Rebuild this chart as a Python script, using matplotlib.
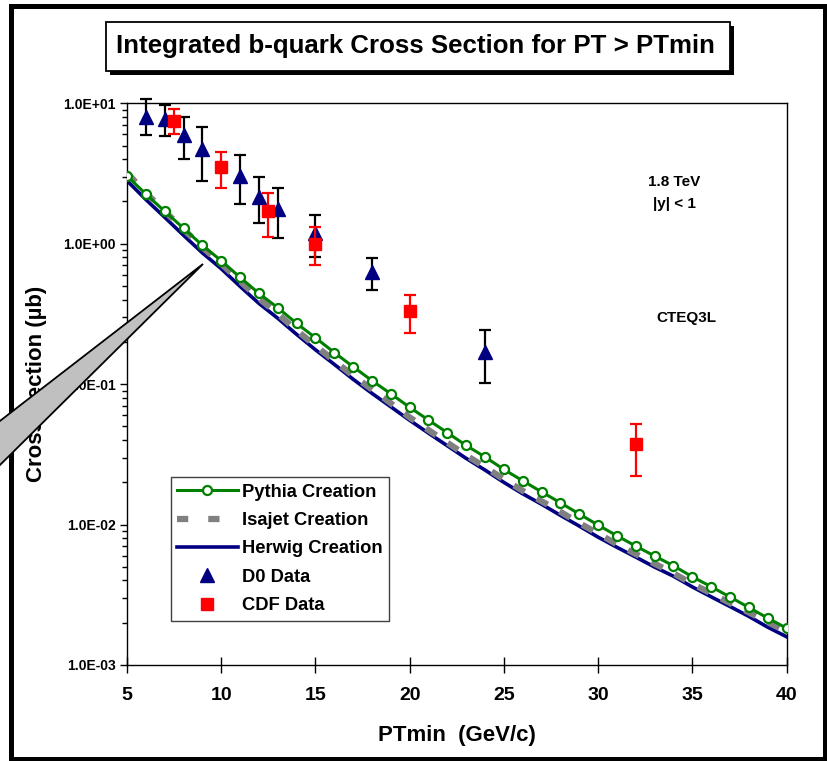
import matplotlib
matplotlib.use('Agg')
import matplotlib.pyplot as plt
from matplotlib.patches import Rectangle, Polygon
from matplotlib.lines import Line2D
from matplotlib.ticker import FixedLocator, FuncFormatter, LogLocator, NullFormatter

plt.rcParams['font.family'] = ['Liberation Sans', 'DejaVu Sans']
plt.rcParams['font.weight'] = 'bold'

# ---------------- data ----------------
pt_min = list(range(5, 41))
pythia = [3.035, 2.26, 1.70, 1.29, 0.974, 0.757, 0.576, 0.443, 0.350, 0.271,
          0.214, 0.168, 0.133, 0.106, 0.0854, 0.0684, 0.0555, 0.0451, 0.0366, 0.0303,
          0.0247, 0.0205, 0.0171, 0.0143, 0.0119, 0.00992, 0.00832, 0.00703, 0.00597, 0.00509,
          0.00425, 0.00361, 0.00305, 0.00257, 0.00216, 0.00183]
isajet = [3.19, 2.30, 1.70, 1.267, 0.943, 0.721, 0.540, 0.408, 0.317, 0.2416,
          0.1877, 0.1466, 0.1148, 0.0918, 0.0731, 0.0580, 0.0471, 0.0383, 0.0311, 0.0257,
          0.0210, 0.0174, 0.01466, 0.01233, 0.01025, 0.00863, 0.00724, 0.00617, 0.00526, 0.00450,
          0.00378, 0.00324, 0.00276, 0.00237, 0.00202, 0.00174]
herwig = [2.81, 2.065, 1.543, 1.148, 0.861, 0.664, 0.497, 0.376, 0.2947, 0.2263,
          0.1758, 0.1384, 0.1084, 0.0860, 0.0690, 0.0553, 0.0448, 0.0364, 0.0296, 0.02445,
          0.01997, 0.01657, 0.01396, 0.01164, 0.00976, 0.00814, 0.00689, 0.00587, 0.00498, 0.00429,
          0.00360, 0.00306, 0.00261, 0.00222, 0.00186, 0.00159]

d0_pt = [6, 7, 8, 9, 11, 12, 13, 15, 18, 24]
d0_val = [8.03, 7.69, 5.95, 4.70, 3.03, 2.16, 1.77, 1.19, 0.629, 0.169]
d0_hi = [10.7, 9.77, 8.03, 6.81, 4.31, 3.00, 2.51, 1.60, 0.79, 0.243]
d0_lo = [5.97, 5.85, 4.01, 2.81, 1.91, 1.41, 1.10, 0.81, 0.468, 0.102]

cdf_pt = [7.5, 10, 12.5, 15, 20, 32]
cdf_val = [7.52, 3.50, 1.71, 1.00, 0.332, 0.0375]
cdf_hi = [9.06, 4.52, 2.29, 1.31, 0.431, 0.052]
cdf_lo = [6.01, 2.51, 1.11, 0.705, 0.231, 0.0222]

x_ticks = [5, 10, 15, 20, 25, 30, 35, 40]
y_ticks = [1e-3, 1e-2, 1e-1, 1e0, 1e1]

series_labels = ['Pythia Creation', 'Isajet Creation', 'Herwig Creation', 'D0 Data', 'CDF Data']

# ---------------- figure ----------------
W, H = 827, 761
fig = plt.figure(figsize=(W / 100, H / 100), dpi=100)
fig.patch.set_facecolor('white')


def fx(x):
    return x / W


def fy(y):
    return 1 - y / H


ax = fig.add_axes([fx(127), fy(665), (786.5 - 127) / W, (665 - 103.3) / H])

GREEN = '#008000'
NAVY = '#000080'
GRAY = '#808080'
RED = '#FF0000'

ax.plot(pt_min, herwig, color=NAVY, lw=2.6, zorder=2)
ax.plot(pt_min, isajet, color=GRAY, lw=4.5, dashes=(2.0, 2.2), solid_capstyle='butt',
        dash_capstyle='butt', zorder=3)
ax.plot(pt_min, pythia, color=GREEN, lw=2.2, marker='o', ms=6.5, mfc='white',
        mec=GREEN, mew=1.6, zorder=4)

d0_err = [[v - l for v, l in zip(d0_val, d0_lo)], [h - v for v, h in zip(d0_val, d0_hi)]]
cdf_err = [[v - l for v, l in zip(cdf_val, cdf_lo)], [h - v for v, h in zip(cdf_val, cdf_hi)]]

eb1 = ax.errorbar(d0_pt, d0_val, yerr=d0_err, fmt='^', color=NAVY, ms=10, ecolor='black',
                  elinewidth=1.6, capsize=4.5, capthick=1.6, zorder=5)
eb2 = ax.errorbar(cdf_pt, cdf_val, yerr=cdf_err, fmt='s', color=RED, ms=9, ecolor=RED,
                  elinewidth=1.6, capsize=4.5, capthick=1.6, zorder=6)
for eb in (eb1, eb2):
    for art in eb.get_children():
        art.set_clip_on(False)

ax.set_yscale('log')
ax.set_xlim(5, 40)
ax.set_ylim(1e-3, 1e1)
ax.xaxis.set_major_locator(FixedLocator(x_ticks))
ax.yaxis.set_major_locator(FixedLocator(y_ticks))
ax.yaxis.set_major_formatter(FuncFormatter(lambda v, p: f"{v:.1E}"))
ax.yaxis.set_minor_locator(LogLocator(base=10, subs=range(2, 10)))
ax.yaxis.set_minor_formatter(NullFormatter())
ax.tick_params(axis='x', which='major', direction='inout', length=12, width=1.0,
               labelsize=14, pad=10)
ax.tick_params(axis='y', which='major', direction='out', length=5, width=1.0,
               labelsize=10, pad=3)
ax.tick_params(axis='y', which='minor', direction='out', length=3.5, width=1.0)
for lab in ax.get_xticklabels() + ax.get_yticklabels():
    lab.set_fontweight('bold')
for s in ax.spines.values():
    s.set_linewidth(1.0)
    s.set_color('black')

ax.set_xlabel('PTmin  (GeV/c)', fontsize=16, fontweight='bold', labelpad=15)
ax.set_ylabel('Cross Section (\u00b5b)', fontsize=16, fontweight='bold', labelpad=12)

ax.text(fx(674), fy(182), '1.8 TeV', transform=fig.transFigure, ha='center', va='center',
        fontsize=11, fontweight='bold')
ax.text(fx(674), fy(204), '|y| < 1', transform=fig.transFigure, ha='center', va='center',
        fontsize=11, fontweight='bold')
ax.text(fx(686), fy(318), 'CTEQ3L', transform=fig.transFigure, ha='center', va='center',
        fontsize=11, fontweight='bold')

# legend
handles = [
    Line2D([], [], color=GREEN, lw=2.2, marker='o', ms=6.5, mfc='white', mec=GREEN, mew=1.6),
    Line2D([], [], color=GRAY, lw=4.5, dashes=(1.8, 3.2)),
    Line2D([], [], color=NAVY, lw=2.6),
    Line2D([], [], color=NAVY, lw=0, marker='^', ms=10),
    Line2D([], [], color=RED, lw=0, marker='s', ms=9),
]
leg = ax.legend(handles, series_labels, loc='upper left',
                bbox_to_anchor=(fx(170.7), fy(477.3)), bbox_transform=fig.transFigure,
                borderaxespad=0, frameon=True, fancybox=False, framealpha=1,
                edgecolor='#404040', prop={'weight': 'bold', 'size': 13.2},
                handlelength=3.3, handletextpad=0.25, labelspacing=0.62, numpoints=1,
                borderpad=0.35)
leg.get_frame().set_linewidth(1.0)
leg.set_zorder(10)

# title box with shadow
fig.add_artist(Rectangle((fx(109.5), fy(74.7)), (730 - 105.5) / W, (70.7 - 21.7) / H,
                         transform=fig.transFigure, facecolor='black', edgecolor='black',
                         lw=0, zorder=1))
fig.add_artist(Rectangle((fx(105.5), fy(70.7)), (730 - 105.5) / W, (70.7 - 21.7) / H,
                         transform=fig.transFigure, facecolor='white', edgecolor='black',
                         lw=1.3, zorder=2))
fig.text(fx(415), fy(46), 'Integrated b-quark Cross Section for PT > PTmin',
         ha='center', va='center', fontsize=18.6, fontweight='bold', zorder=3)

# outer frame
fig.add_artist(Rectangle((fx(10.5), fy(758.5)), (824.5 - 10.5) / W, (758.5 - 5.8) / H,
                         transform=fig.transFigure, facecolor='none', edgecolor='black',
                         lw=3.6, zorder=5))

# callout wedge
wedge_px = [(203, 264), (-60, 264 + 263 * 0.773), (-60, 264 + 263 * 0.99)]
fig.add_artist(Polygon([(fx(a), fy(b)) for a, b in wedge_px], closed=True,
                       transform=fig.transFigure, facecolor='#C0C0C0', edgecolor='black',
                       lw=1.3, zorder=20))

fig.savefig('out.png', dpi=100)
